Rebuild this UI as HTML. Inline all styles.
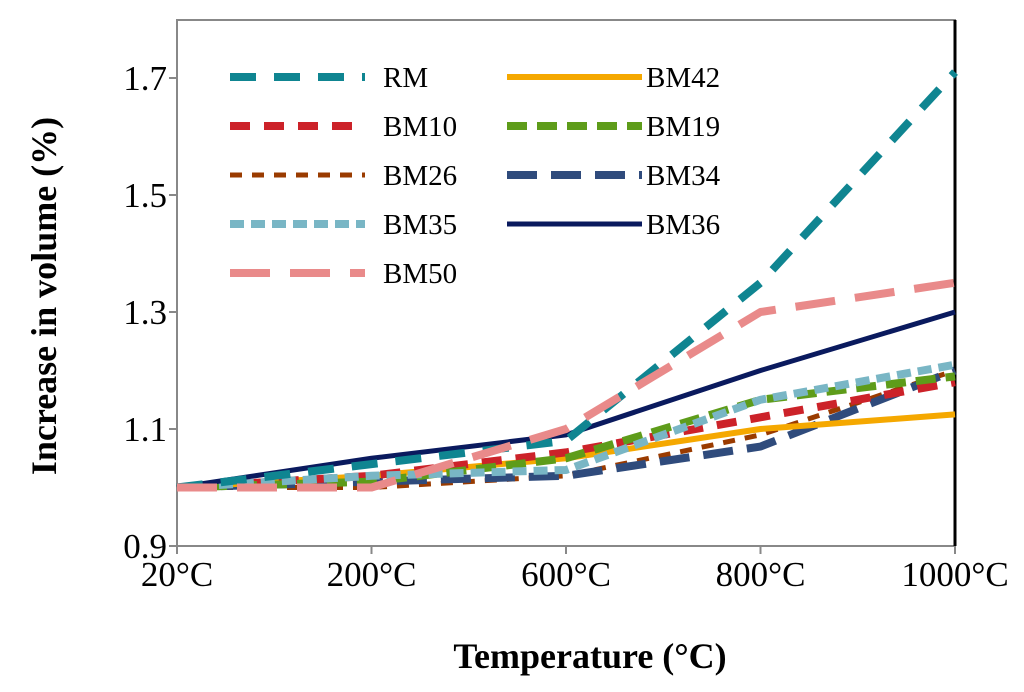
<!DOCTYPE html>
<html><head><meta charset="utf-8"><style>
body{margin:0;background:#fff}
svg text{font-family:"Liberation Serif",serif}
</style></head><body>
<svg id="chart" width="1024" height="687" viewBox="0 0 1024 687" xmlns="http://www.w3.org/2000/svg">
<rect width="1024" height="687" fill="#fff"/>
<g id="axes"></g>
<g id="series"></g>
<g id="legend"></g>
</svg>
<script>
const categories=["20°C","200°C","600°C","800°C","1000°C"];
const yTicks=[0.9,1.1,1.3,1.5,1.7];
const seriesNames=["RM","BM42","BM10","BM19","BM26","BM34","BM35","BM36","BM50"];
const RM=[1.0,1.04,1.08,1.35,1.71];
const BM42=[1.0,1.02,1.05,1.1,1.125];
const BM10=[1.0,1.02,1.06,1.12,1.18];
const BM19=[1.0,1.01,1.05,1.15,1.19];
const BM26=[1.0,1.0,1.02,1.09,1.2];
const BM34=[1.0,1.01,1.02,1.07,1.2];
const BM35=[1.0,1.02,1.03,1.15,1.21];
const BM36=[1.0,1.05,1.09,1.2,1.3];
const BM50=[1.0,1.0,1.1,1.3,1.35];
const values={RM,BM42,BM10,BM19,BM26,BM34,BM35,BM36,BM50};
const styles={
RM:{c:"#0f8591",w:8,d:"26 18"},BM42:{c:"#f5a800",w:6,d:""},
BM10:{c:"#cc2229",w:8,d:"20 14"},BM19:{c:"#5e9c1a",w:8,d:"20 10"},
BM26:{c:"#9a3b00",w:5,d:"12 10"},BM34:{c:"#2f4b7c",w:8,d:"30 14"},
BM35:{c:"#79b6c5",w:8,d:"14 7"},BM36:{c:"#0a1a5e",w:5,d:""},
BM50:{c:"#e98a8a",w:8,d:"40 20"}};
const X0=177,X1=955,Y0=546,Y1=78;
const x=i=>X0+i*(X1-X0)/(categories.length-1);
const y=v=>Y0-(v-0.9)/(1.7-0.9)*(Y0-Y1);
const NS="http://www.w3.org/2000/svg";
function mk(t,a,p){const e=document.createElementNS(NS,t);for(const k in a)e.setAttribute(k,a[k]);p.appendChild(e);return e;}
const axes=document.getElementById("axes");
const frame=mk("rect",{x:X0,y:20,width:X1-X0,height:Y0-20,fill:"none",stroke:"#888","stroke-width":2},axes);


const rb=mk("line",{x1:X1,x2:X1,y1:20,y2:Y0,stroke:"#000","stroke-width":3},axes);


yTicks.forEach(t=>{
 const l=mk("line",{x1:X0-8,x2:X0,y1:y(t),y2:y(t),stroke:"#888","stroke-width":2},axes);
 
 
 const tx=mk("text",{x:X0-10,y:y(t)+12,"text-anchor":"end","font-size":35},axes);
 tx.textContent=t.toFixed(1);
 
 
});
categories.forEach((c,i)=>{
 const l=mk("line",{x1:x(i),x2:x(i),y1:Y0,y2:Y0+8,stroke:"#888","stroke-width":2},axes);
 
 
 const tx=mk("text",{x:x(i),y:Y0+40,"text-anchor":"middle","font-size":35},axes);
 tx.textContent=c;
 
 
});
const xt=mk("text",{x:590,y:668,"text-anchor":"middle","font-size":36,"font-weight":"bold"},axes);
xt.textContent="Temperature (°C)";


const yt=mk("text",{x:0,y:0,"text-anchor":"middle","font-size":36,"font-weight":"bold",transform:"translate(56,296) rotate(-90)"},axes);
yt.textContent="Increase in volume  (%)";


const sg=document.getElementById("series");
const order=["BM26","BM34","BM42","BM10","BM19","BM35","BM36","RM","BM50"];
order.forEach(n=>{
 const s=styles[n];
 const pts=values[n].map((v,i)=>x(i)+","+y(v)).join(" ");
 const p=mk("polyline",{points:pts,fill:"none",stroke:s.c,"stroke-width":s.w,"stroke-dasharray":s.d,"stroke-linejoin":"round"},sg);
 
 
});
const lg=document.getElementById("legend");
seriesNames.forEach((n,i)=>{
 const col=i%2,row=Math.floor(i/2);
 const lx=col?507:230,ly=77+row*49;
 const s=styles[n];
 const g=mk("g",{},lg);
 
 
 mk("line",{x1:lx,x2:lx+135,y1:ly,y2:ly,stroke:s.c,"stroke-width":s.w,"stroke-dasharray":s.d},g);
 const t=mk("text",{x:lx+(col?139:153),y:ly+10,"font-size":29},g);
 t.textContent=n;
});
</script>
</body></html>
